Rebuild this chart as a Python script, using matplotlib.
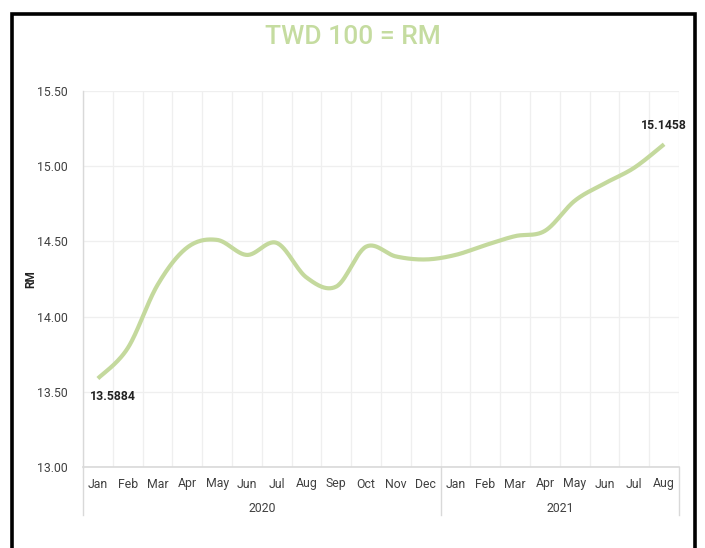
import numpy as np
import matplotlib
matplotlib.use("Agg")
import matplotlib.pyplot as plt
from matplotlib import font_manager as fm
from matplotlib.patches import Rectangle
from matplotlib.lines import Line2D

names = {f.name for f in fm.fontManager.ttflist}
NARROW = "Liberation Sans Narrow" if "Liberation Sans Narrow" in names else "Roboto"
plt.rcParams['font.family'] = [NARROW, 'DejaVu Sans']

months = ["Jan", "Feb", "Mar", "Apr", "May", "Jun", "Jul", "Aug", "Sep", "Oct", "Nov", "Dec",
          "Jan", "Feb", "Mar", "Apr", "May", "Jun", "Jul", "Aug"]
years = ["2020", "2021"]
year_counts = [12, 8]
values = [13.5884, 13.79, 14.21, 14.46, 14.51, 14.41, 14.49, 14.26, 14.20, 14.465,
          14.40, 14.38, 14.41, 14.475, 14.535, 14.57, 14.77, 14.885, 14.99, 15.1458]
yticks = [13.00, 13.50, 14.00, 14.50, 15.00, 15.50]
title = "TWD 100 = RM"
ylabel = "RM"

line_color = "#c4d99d"
grid_color = "#efefef"
axis_color = "#d9d9d9"
text_color = "#404040"

def smooth(x, y, n=30):
    # Catmull-Rom style cubic Bezier smoothing (Excel-like)
    x = np.asarray(x, float); y = np.asarray(y, float)
    px = np.concatenate([[x[0]], x, [x[-1]]])
    py = np.concatenate([[y[0]], y, [y[-1]]])
    xs, ys = [], []
    t = np.linspace(0, 1, n)
    for i in range(1, len(px) - 2):
        p0 = np.array([px[i], py[i]]); p3 = np.array([px[i+1], py[i+1]])
        p1 = p0 + (np.array([px[i+1], py[i+1]]) - np.array([px[i-1], py[i-1]])) / 6
        p2 = p3 - (np.array([px[i+2], py[i+2]]) - np.array([px[i], py[i]])) / 6
        b = ((1-t)**3)[:, None]*p0 + (3*(1-t)**2*t)[:, None]*p1 + (3*(1-t)*t**2)[:, None]*p2 + (t**3)[:, None]*p3
        xs.extend(b[:, 0]); ys.extend(b[:, 1])
    return np.array(xs), np.array(ys)

fig = plt.figure(figsize=(7.05, 5.48), dpi=100)
fig.patch.set_facecolor("white")
fig.patches.append(Rectangle((12/705, -0.05), (695-12)/705, 1 + 0.05 - 13.5/548,
                             transform=fig.transFigure, fill=False, edgecolor="black",
                             linewidth=2.6, zorder=10))

ax = fig.add_axes([83/705, 1-467/548, (679-83)/705, (467-91)/548])
n = len(values)
x = np.arange(n)
ax.set_xlim(-0.5, n - 0.5)
ax.set_ylim(13.0, 15.5)
ax.set_yticks(yticks)
ax.set_yticklabels([f"{v:.2f}" for v in yticks], fontsize=8.8, color=text_color)
ax.tick_params(axis="y", length=0, pad=11)
ax.set_xticks(np.arange(-0.5, n, 1.0), minor=False)
ax.set_xticklabels([])
ax.tick_params(axis="x", length=0)
ax.grid(True, color=grid_color, linewidth=0.9)
ax.set_axisbelow(True)
for s in ["top", "right"]:
    ax.spines[s].set_visible(False)
ax.spines["left"].set_color(axis_color)
ax.spines["bottom"].set_color(axis_color)
ax.spines["left"].set_linewidth(1.0)
ax.spines["bottom"].set_linewidth(1.2)

sx, sy = smooth(x, values)
ax.plot(sx, sy, color=line_color, linewidth=3.0, solid_capstyle="butt", zorder=3)

ax.annotate(f"{values[0]:.4f}", (x[0], values[0]), xytext=(11, -13), textcoords="offset points",
            ha="center", va="center", fontsize=8.8, color="#222222", fontweight="bold")
ax.annotate(f"{values[-1]:.4f}", (x[-1], values[-1]), xytext=(0, 13.5), textcoords="offset points",
            ha="center", va="center", fontsize=8.8, color="#222222", fontweight="bold")

trans = ax.get_xaxis_transform()
for i, m in enumerate(months):
    ax.text(x[i], -17/376, m, transform=trans, ha="center", va="center", fontsize=8.8, color=text_color)
start = 0
bounds = [-0.5]
for yr, c in zip(years, year_counts):
    ax.text(start + c/2 - 0.5, -41/376, yr, transform=trans, ha="center", va="center",
            fontsize=8.8, color=text_color)
    start += c
    bounds.append(start - 0.5)
for b in bounds:
    ax.add_line(Line2D([b, b], [0, -48/376], transform=trans, color=axis_color,
                       linewidth=1.0, clip_on=False))

ax.set_ylabel(ylabel, fontsize=8.5, fontweight="bold", color="#222222")
ax.yaxis.set_label_coords(-46/596, 0.5)
fig.text(0.5, 1-37/548, title, ha="center", va="center", fontsize=19, color="#c5dca0",
         fontweight="medium")

fig.savefig("out.png", dpi=100, facecolor="white")
